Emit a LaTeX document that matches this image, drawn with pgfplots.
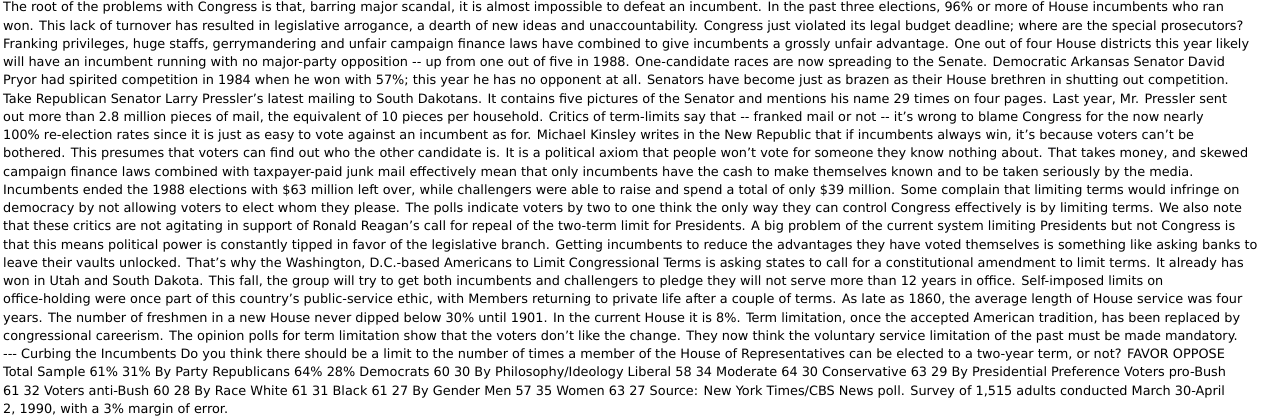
\documentclass[border=0pt]{standalone}
\usepackage{pgfplots}
\pgfplotsset{compat=1.18}
\usepackage{fontspec}
\setmainfont{DejaVu Sans}
\begin{document}
\begin{tikzpicture}
\path[fill=white] (0,0) rectangle (1280pt,408pt);
\begin{axis}[at={(0,0)},anchor=south west,width=1280pt,height=408pt,scale only axis,hide axis,xmin=0,xmax=1,ymin=0,ymax=1]
\end{axis}
\node[anchor=north west,inner sep=0pt,align=left,font=\fontsize{12.85pt}{18.25pt}\selectfont] at (3pt,406pt) {%
The root of the problems with Congress is that, barring major scandal, it is almost impossible to defeat an incumbent. In the past three elections, 96\% or more of House incumbents who ran\\
won. This lack of turnover has resulted in legislative arrogance, a dearth of new ideas and unaccountability. Congress just violated its legal budget deadline; where are the special prosecutors?\\
Franking privileges, huge staffs, gerrymandering and unfair campaign finance laws have combined to give incumbents a grossly unfair advantage. One out of four House districts this year likely\\
will have an incumbent running with no major-party opposition {-}{-} up from one out of five in 1988. One-candidate races are now spreading to the Senate. Democratic Arkansas Senator David\\
Pryor had spirited competition in 1984 when he won with 57\%; this year he has no opponent at all. Senators have become just as brazen as their House brethren in shutting out competition.\\
Take Republican Senator Larry Pressler's latest mailing to South Dakotans. It contains five pictures of the Senator and mentions his name 29 times on four pages. Last year, Mr. Pressler sent\\
out more than 2.8 million pieces of mail, the equivalent of 10 pieces per household. Critics of term-limits say that {-}{-} franked mail or not {-}{-} it's wrong to blame Congress for the now nearly\\
100\% re-election rates since it is just as easy to vote against an incumbent as for. Michael Kinsley writes in the New Republic that if incumbents always win, it's because voters can't be\\
bothered. This presumes that voters can find out who the other candidate is. It is a political axiom that people won't vote for someone they know nothing about. That takes money, and skewed\\
campaign finance laws combined with taxpayer-paid junk mail effectively mean that only incumbents have the cash to make themselves known and to be taken seriously by the media.\\
Incumbents ended the 1988 elections with \$63 million left over, while challengers were able to raise and spend a total of only \$39 million. Some complain that limiting terms would infringe on\\
democracy by not allowing voters to elect whom they please. The polls indicate voters by two to one think the only way they can control Congress effectively is by limiting terms. We also note\\
that these critics are not agitating in support of Ronald Reagan's call for repeal of the two-term limit for Presidents. A big problem of the current system limiting Presidents but not Congress is\\
that this means political power is constantly tipped in favor of the legislative branch. Getting incumbents to reduce the advantages they have voted themselves is something like asking banks to\\
leave their vaults unlocked. That's why the Washington, D.C.-based Americans to Limit Congressional Terms is asking states to call for a constitutional amendment to limit terms. It already has\\
won in Utah and South Dakota. This fall, the group will try to get both incumbents and challengers to pledge they will not serve more than 12 years in office. Self-imposed limits on\\
office-holding were once part of this country's public-service ethic, with Members returning to private life after a couple of terms. As late as 1860, the average length of House service was four\\
years. The number of freshmen in a new House never dipped below 30\% until 1901. In the current House it is 8\%. Term limitation, once the accepted American tradition, has been replaced by\\
congressional careerism. The opinion polls for term limitation show that the voters don't like the change. They now think the voluntary service limitation of the past must be made mandatory.\\
{-}{-}{-} Curbing the Incumbents Do you think there should be a limit to the number of times a member of the House of Representatives can be elected to a two-year term, or not? FAVOR OPPOSE\\
Total Sample 61\% 31\% By Party Republicans 64\% 28\% Democrats 60 30 By Philosophy/Ideology Liberal 58 34 Moderate 64 30 Conservative 63 29 By Presidential Preference Voters pro-Bush\\
61 32 Voters anti-Bush 60 28 By Race White 61 31 Black 61 27 By Gender Men 57 35 Women 63 27 Source: New York Times/CBS News poll. Survey of 1,515 adults conducted March 30-April\\
2, 1990, with a 3\% margin of error.};
\end{tikzpicture}
\end{document}
